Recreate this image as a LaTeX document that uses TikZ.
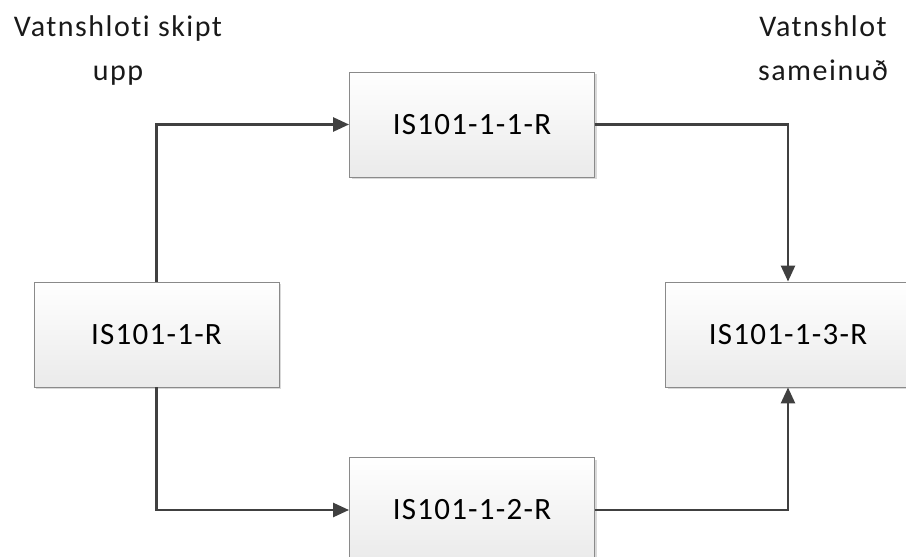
\documentclass[tikz,border=0pt]{standalone}
\usepackage{fontspec}
\setmainfont{Carlito}[Ligatures=NoCommon]
\usetikzlibrary{arrows.meta,shadows}
\definecolor{linegray}{HTML}{404040}
\definecolor{boxedge}{HTML}{8A8A8A}
\definecolor{boxlow}{HTML}{EAEAEA}
\tikzset{
  stage/.style={draw=boxedge, line width=0.9bp, top color=white, bottom color=boxlow,
    minimum width=245bp, minimum height=105bp, inner sep=0pt,
    font=\fontsize{31bp}{36bp}\selectfont\addfontfeature{LetterSpace=4},
    drop shadow={shadow xshift=2bp, shadow yshift=-2bp, fill=black!25, opacity=0.6}},
  heading/.style={align=center, inner sep=0pt,
    font=\fontsize{30bp}{44bp}\selectfont\addfontfeature{LetterSpace=5},
    text=black!90},
  flow/.style={draw=linegray, line width=2.6bp,
    -{Triangle[length=16bp, width=14bp]}}
}
\begin{document}
\begin{tikzpicture}[x=1bp, y=-1bp]
  \useasboundingbox (0,0) rectangle (906,557);
  \node[heading, anchor=north] (split) at (118,15) {Vatnshloti skipt\\upp};
  \node[heading, anchor=north] (merge) at (823,15) {Vatnshlot\\sameinuð};

  \node[stage] (src) at (156.5,334.5) {IS101-1-R};
  \node[stage] (top) at (472,124.5) {IS101-1-1-R};
  \node[stage] (bot) at (472,510) {IS101-1-2-R};
  \node[stage] (dst) at (788,334.5) {IS101-1-3-R};

  \draw[flow] (src.north) |- (top.west);
  \draw[flow] (src.south) |- (bot.west);
  \draw[flow] (top.east) -| (dst.north);
  \draw[flow] (bot.east) -| (dst.south);
\end{tikzpicture}
\end{document}
